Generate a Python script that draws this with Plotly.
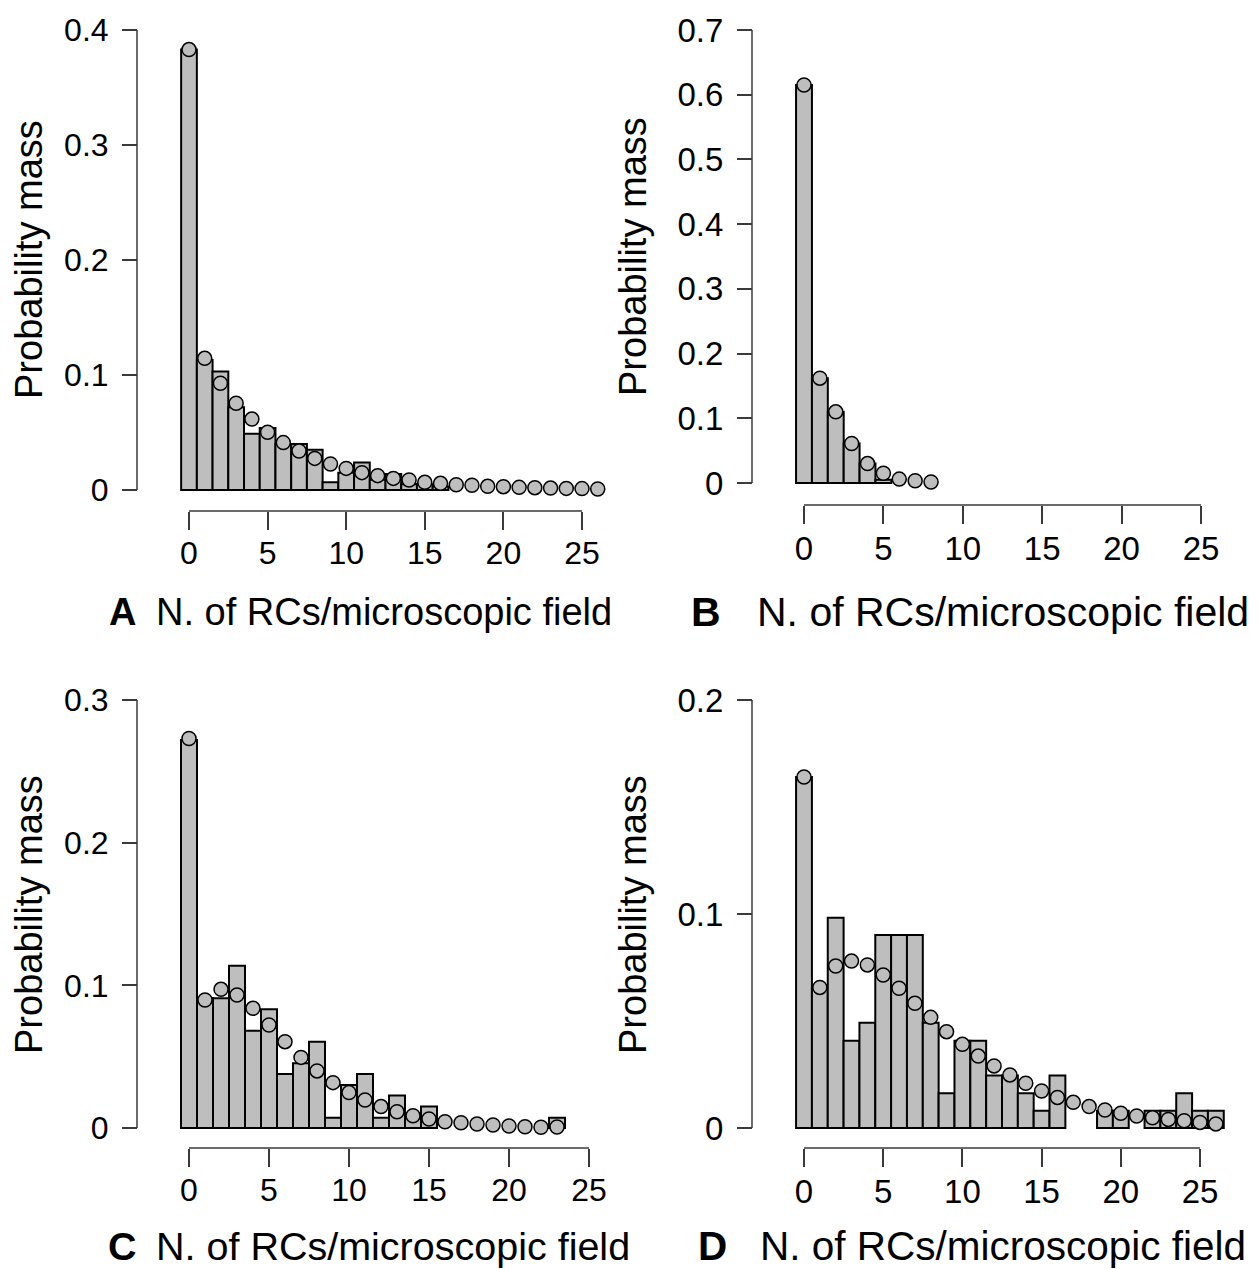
import plotly.graph_objects as go

# ---------------- data ----------------
a_bars = [0.383, 0.113, 0.103, 0.072, 0.049, 0.054, 0.040, 0.040, 0.035, 0.0067,
          0.015, 0.024, 0.009, 0.014, 0.005, 0.005, 0.003]
a_fit = [0.383, 0.1145, 0.0928, 0.0754, 0.0617, 0.0502, 0.0412, 0.0339, 0.0275, 0.0226,
         0.0188, 0.0151, 0.0125, 0.0101, 0.0087, 0.0067, 0.0058, 0.0046, 0.0041, 0.0032,
         0.0029, 0.0023, 0.0020, 0.0017, 0.0014, 0.0012, 0.0009]

b_bars = [0.615, 0.162, 0.110, 0.061, 0.030, 0.005]
b_fit = [0.615, 0.162, 0.110, 0.061, 0.030, 0.015, 0.006, 0.0035, 0.0015]

c_bars = [0.272, 0.0909, 0.0909, 0.1138, 0.0682, 0.0832, 0.0378, 0.0453, 0.0605, 0.0072,
          0.0301, 0.0378, 0.0072, 0.0227, 0.0072, 0.0150, 0, 0, 0, 0, 0, 0, 0, 0.0072]
c_fit = [0.273, 0.0897, 0.0972, 0.0932, 0.0839, 0.0722, 0.0605, 0.0495, 0.0400, 0.0318,
         0.0248, 0.0196, 0.0150, 0.0114, 0.0086, 0.0063, 0.0044, 0.0037, 0.0028, 0.0021,
         0.0014, 0.0009, 0.0005, 0.0007]

d_bars = [0.164, 0.0653, 0.0983, 0.0408, 0.0492, 0.0902, 0.0902, 0.0902, 0.0492, 0.0162,
          0.0408, 0.0408, 0.0245, 0.0245, 0.0162, 0.0081, 0.0245, 0, 0, 0.0081,
          0.0081, 0, 0.0081, 0.0081, 0.0162, 0.0081, 0.0081]
d_fit = [0.164, 0.0657, 0.0757, 0.0780, 0.0762, 0.0715, 0.0653, 0.0583, 0.0517, 0.0450,
         0.0391, 0.0336, 0.0290, 0.0248, 0.0209, 0.0173, 0.0143, 0.0120, 0.0100, 0.0084,
         0.0069, 0.0056, 0.0048, 0.0040, 0.0034, 0.0026, 0.0019]

x_ticks = [0, 5, 10, 15, 20, 25]
a_yticks = [0, 0.1, 0.2, 0.3, 0.4]
b_yticks = [0, 0.1, 0.2, 0.3, 0.4, 0.5, 0.6, 0.7]
c_yticks = [0, 0.1, 0.2, 0.3]
d_yticks = [0, 0.1, 0.2]

panel_letters = ["A", "B", "C", "D"]
x_title = "N. of RCs/microscopic field"
y_title = "Probability mass"

# ---------------- layout geometry (window pixels) ----------------
OFF = 8                      # default page margin of the html body
W, H = 1258 - OFF, 1269 - OFF
FONT = "Liberation Sans, Arial, sans-serif"
GRAY = "#BEBEBE"
AXCOL = "#3a3a3a"

geo = [
    dict(x0=189, x25=582, y0=490, yt=30, ytv=0.4, yax=137, xay=511, dom=(150, 625, 15, 505),
         ylx=29, lly=260, lx=122, tx0=155, ty=612, tfs=38, kfs=32),
    dict(x0=804, x25=1201, y0=483, yt=30, ytv=0.7, yax=752, xay=505, dom=(770, 1250, 15, 498),
         ylx=633, lly=257, lx=706, tx0=756, ty=612, tfs=41, kfs=33),
    dict(x0=189, x25=589, y0=1128, yt=700, ytv=0.3, yax=137, xay=1148, dom=(150, 625, 685, 1143),
         ylx=29, lly=915, lx=122, tx0=155, ty=1246, tfs=39.5, kfs=32),
    dict(x0=804, x25=1200, y0=1128, yt=700, ytv=0.2, yax=752, xay=1148, dom=(770, 1250, 685, 1143),
         ylx=633, lly=915, lx=713, tx0=759, ty=1246, tfs=40.5, kfs=33),
]


def px(x):
    return (x - OFF) / W


def py(y):
    return 1 - (y - OFF) / H


def val_at(p, p0, p1, v0, v1):
    return v0 + (p - p0) * (v1 - v0) / (p1 - p0)


bars_all = [a_bars, b_bars, c_bars, d_bars]
fits_all = [a_fit, b_fit, c_fit, d_fit]
yticks_all = [a_yticks, b_yticks, c_yticks, d_yticks]

fig = go.Figure()
shapes = []
annotations = []
layout = {}

for i in range(4):
    g = geo[i]
    n = "" if i == 0 else str(i + 1)
    bars = bars_all[i]
    fit = fits_all[i]
    xl, xr, yt, yb = g["dom"]

    fig.add_trace(go.Bar(
        x=list(range(len(bars))),
        y=[v if v > 0 else None for v in bars],
        width=1,
        marker=dict(color=GRAY, line=dict(color="black", width=2)),
        xaxis="x" + n, yaxis="y" + n, showlegend=False, hoverinfo="x+y",
    ))
    fig.add_trace(go.Scatter(
        x=list(range(len(fit))), y=fit, mode="markers",
        marker=dict(size=14, color=GRAY, line=dict(color="black", width=1.5)),
        xaxis="x" + n, yaxis="y" + n, showlegend=False, cliponaxis=False,
    ))

    xr0 = val_at(xl, g["x0"], g["x25"], 0, 25)
    xr1 = val_at(xr, g["x0"], g["x25"], 0, 25)
    yr0 = val_at(yb, g["y0"], g["yt"], 0, g["ytv"])
    yr1 = val_at(yt, g["y0"], g["yt"], 0, g["ytv"])
    yt_vals = yticks_all[i]

    layout["xaxis" + n] = dict(
        domain=[px(xl), px(xr)], range=[xr0, xr1], anchor="free", position=py(g["xay"]),
        tickmode="array", tickvals=x_ticks, ticktext=[str(t) for t in x_ticks],
        ticks="outside", ticklen=18, tickwidth=1.5, tickcolor=AXCOL,
        showgrid=False, zeroline=False, showline=False, automargin=False,
        tickfont=dict(family=FONT, size=g["kfs"], color="black"), ticklabelstandoff=-4,
    )
    layout["yaxis" + n] = dict(
        domain=[py(yb), py(yt)], range=[yr0, yr1], anchor="free", position=px(g["yax"]),
        tickmode="array", tickvals=yt_vals,
        ticktext=["0" if t == 0 else f"{t:.1f}" for t in yt_vals],
        ticks="outside", ticklen=15, tickwidth=1.5, tickcolor=AXCOL,
        showgrid=False, zeroline=False, showline=False, automargin=False,
        tickfont=dict(family=FONT, size=g["kfs"], color="black"), ticklabelstandoff=7,
    )

    shapes.append(dict(type="line", xref="x" + n, yref="paper", x0=0, x1=25,
                       y0=py(g["xay"]), y1=py(g["xay"]), line=dict(color=AXCOL, width=1.5)))
    shapes.append(dict(type="line", xref="paper", yref="y" + n, x0=px(g["yax"]), x1=px(g["yax"]),
                       y0=0, y1=g["ytv"], line=dict(color=AXCOL, width=1.5)))

    annotations.append(dict(xref="paper", yref="paper", x=px(g["ylx"]), y=py(g["lly"]),
                            text=y_title, textangle=-90, showarrow=False,
                            xanchor="center", yanchor="middle", borderpad=0,
                            font=dict(family=FONT, size=38, color="black")))
    annotations.append(dict(xref="paper", yref="paper", x=px(g["tx0"]), y=py(g["ty"]),
                            text=x_title, showarrow=False, xanchor="left", yanchor="middle",
                            borderpad=0,
                            font=dict(family=FONT, size=g["tfs"], color="black")))
    annotations.append(dict(xref="paper", yref="paper", x=px(g["lx"]), y=py(g["ty"]),
                            text="<b>" + panel_letters[i] + "</b>", showarrow=False,
                            xanchor="center", yanchor="middle", borderpad=0,
                            font=dict(family=FONT, size=g["tfs"], color="black")))

fig.update_layout(
    width=W, height=H, margin=dict(l=0, r=0, t=0, b=0, autoexpand=False),
    paper_bgcolor="white", plot_bgcolor="white",
    shapes=shapes, annotations=annotations, barmode="overlay",
    **layout,
)

fig.write_html("out.html")
